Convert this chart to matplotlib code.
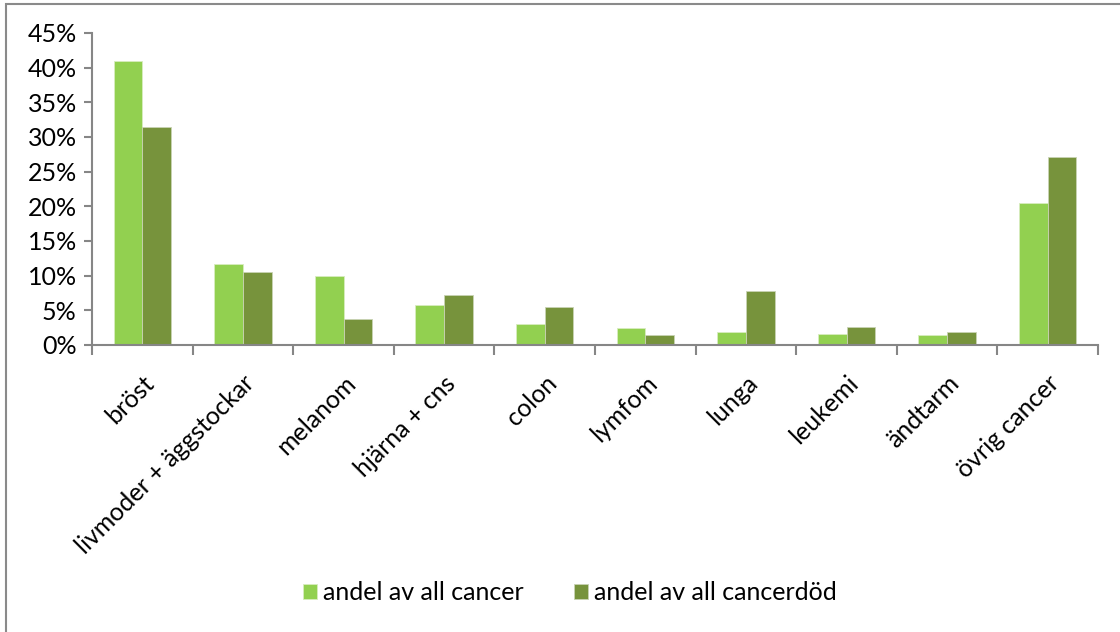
import matplotlib
matplotlib.use("Agg")
import matplotlib.pyplot as plt
from matplotlib.patches import Rectangle
from matplotlib.ticker import FuncFormatter, MultipleLocator

categories = ["bröst", "livmoder + äggstockar", "melanom", "hjärna + cns", "colon",
              "lymfom", "lunga", "leukemi", "ändtarm", "övrig cancer"]
share_cancer = [41.0, 11.7, 10.0, 5.7, 3.1, 2.45, 1.9, 1.6, 1.5, 20.45]
share_deaths = [31.5, 10.6, 3.75, 7.25, 5.5, 1.5, 7.8, 2.6, 1.85, 27.1]
series_names = ["andel av all cancer", "andel av all cancerdöd"]
colors = ["#92D050", "#77933C"]

plt.rcParams["font.family"] = ["Lato", "DejaVu Sans"]
FS = 18

W, H = 1120, 632
fig = plt.figure(figsize=(W / 100, H / 100), dpi=100)
ax = fig.add_axes([92 / W, 1 - 345 / H, (1098 - 92) / W, (345 - 33) / H])

x = range(len(categories))
bw = 0.285
ax.bar([i - bw / 2 for i in x], share_cancer, width=bw, color=colors[0],
       edgecolor="#d8ecc0", linewidth=0.6, label=series_names[0], zorder=2)
ax.bar([i + bw / 2 for i in x], share_deaths, width=bw, color=colors[1],
       edgecolor="#c9d3b4", linewidth=0.6, label=series_names[1], zorder=2)

ax.set_xlim(-0.5, len(categories) - 0.5)
ax.set_ylim(0, 45)
ax.yaxis.set_major_locator(MultipleLocator(5))
ax.yaxis.set_major_formatter(FuncFormatter(lambda v, p: f"{v:.0f}%"))

for s in ["top", "right"]:
    ax.spines[s].set_visible(False)
for s in ["left", "bottom"]:
    ax.spines[s].set_color("#868686")
    ax.spines[s].set_linewidth(1.5)

ax.tick_params(axis="y", length=6, width=1.5, color="#868686", labelsize=FS, pad=5)
ax.set_xticks([i - 0.5 for i in range(len(categories) + 1)], minor=False)
ax.set_xticklabels([])
ax.tick_params(axis="x", which="major", length=7, width=1.5, color="#868686", direction="out")
ax.set_xticks(list(x), minor=True)
ax.set_xticklabels(categories, minor=True, rotation=45, ha="right", va="top",
                   rotation_mode="anchor", fontsize=FS)
ax.tick_params(axis="x", which="minor", length=0, pad=19)

ax.legend(loc="center", bbox_to_anchor=(570 / W, 1 - 593 / H), bbox_transform=fig.transFigure,
          ncol=2, frameon=False, fontsize=FS, handlelength=0.55, handleheight=0.55,
          handletextpad=0.25, columnspacing=2.0)

fig.patches.append(Rectangle((5.5 / W, -0.1), 1.2, 1 - 3.5 / H + 0.1, transform=fig.transFigure,
                             fill=False, edgecolor="#8a8a8a", linewidth=1.5))

fig.savefig("out.png", dpi=100)
